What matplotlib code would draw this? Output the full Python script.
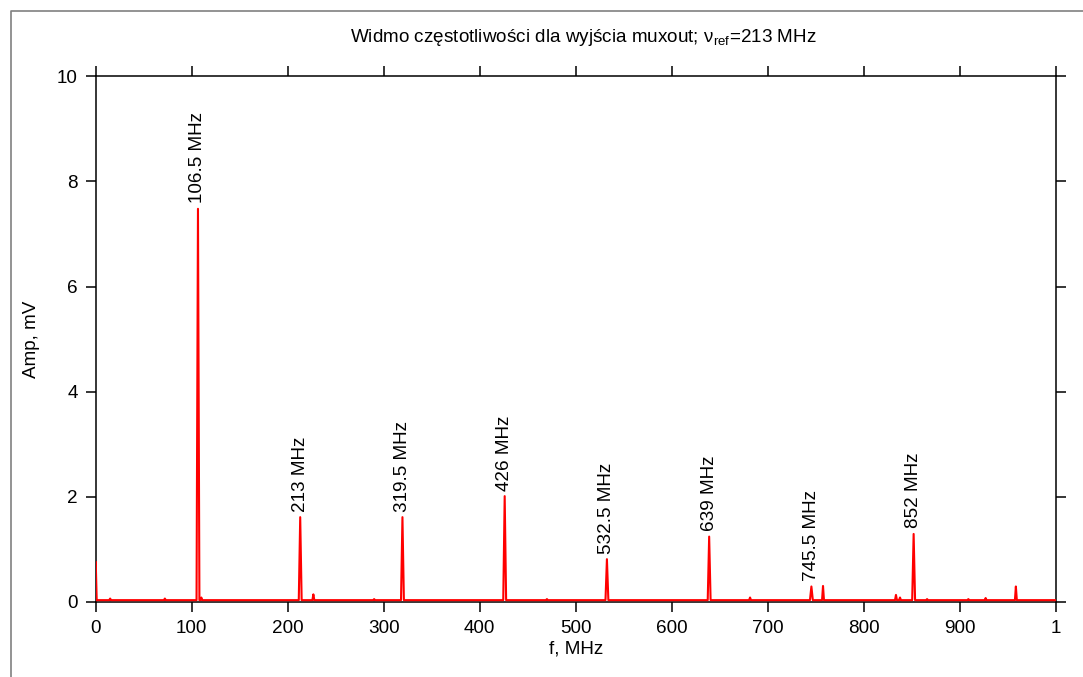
import matplotlib
matplotlib.use("Agg")
import matplotlib.pyplot as plt
from matplotlib.lines import Line2D

plt.rcParams['font.family'] = ['Liberation Sans', 'DejaVu Sans']
plt.rcParams['mathtext.fontset'] = 'custom'
plt.rcParams['mathtext.rm'] = 'Liberation Sans'
plt.rcParams['mathtext.it'] = 'Liberation Sans:italic'

# glowne prazki widma (MHz, mV) + podpisy
peak_f = [106.5, 213, 319.5, 426, 532.5, 639, 745.5, 852]
peak_a = [7.48, 1.61, 1.61, 2.01, 0.81, 1.24, 0.29, 1.29]
peak_labels = ["106.5 MHz", "213 MHz", "319.5 MHz", "426 MHz",
               "532.5 MHz", "639 MHz", "745.5 MHz", "852 MHz"]

# male prazki bez podpisow
spur_f = [0, 15, 72, 110, 226.7, 290, 470, 681.6, 757.6, 833.6, 837.8,
          866, 909, 927, 958.5]
spur_a = [0.76, 0.06, 0.06, 0.08, 0.14, 0.05, 0.05, 0.08, 0.30, 0.13, 0.08,
          0.05, 0.05, 0.07, 0.29]

noise_level = 0.03
f_min, f_max = 0, 1000
fs = 13.6

# sklejenie widma w jedna linie
lines = sorted([(f, a, 1.5) for f, a in zip(peak_f, peak_a)] +
               [(f, a, 1.0) for f, a in zip(spur_f, spur_a)])
xs, ys = [f_min], [noise_level]
for f, a, w in lines:
    xs += [max(f - w, f_min), f, min(f + w, f_max)]
    ys += [noise_level, a, noise_level]
xs.append(f_max)
ys.append(noise_level)

fig = plt.figure(figsize=(10.83, 6.77), dpi=100)
ax = fig.add_axes([0.0884, 0.1112, 0.8864, 0.7759])

ax.plot(xs, ys, color='red', linewidth=1.5, zorder=3)

for f, a, lab in zip(peak_f, peak_a, peak_labels):
    ax.annotate(lab, xy=(f, a), xytext=(0, 4), textcoords='offset points',
                rotation=90, ha='center', va='bottom', fontsize=fs)

ax.set_xlim(f_min, f_max)
ax.set_ylim(0, 10)
ax.set_xticks(range(0, 1001, 100))
ax.set_xticklabels([str(v) for v in range(0, 901, 100)] + ["1"])
ax.set_yticks(range(0, 11, 2))

ax.tick_params(direction='out', length=7, width=1.1, top=True, right=True,
               labelsize=fs, pad=6)
for sp in ax.spines.values():
    sp.set_linewidth(1.1)

ax.set_xlabel("f, MHz", fontsize=fs, labelpad=3)
ax.set_ylabel("Amp, mV", fontsize=fs, labelpad=12)

fig.text(0.5388, 0.944, "Widmo częstotliwości dla wyjścia muxout; ν$_{\\mathrm{ref}}$=213 MHz",
         ha='center', va='center', fontsize=fs)

# szara ramka okna
fig.add_artist(Line2D([11 / 1083, 11 / 1083, 1.0], [0.0, 1 - 11 / 677, 1 - 11 / 677],
                      transform=fig.transFigure, color='#808080', linewidth=1.2))

fig.savefig("out.png", dpi=100)
